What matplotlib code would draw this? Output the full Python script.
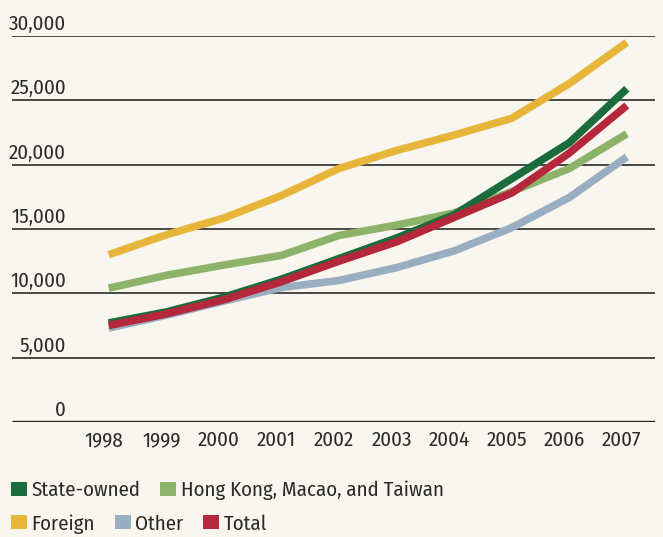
import matplotlib
matplotlib.use("Agg")
import matplotlib.pyplot as plt
import matplotlib.transforms as mtransforms
from matplotlib.patches import Patch

years = [1998, 1999, 2000, 2001, 2002, 2003, 2004, 2005, 2006, 2007]

state_owned = [7700, 8550, 9700, 11100, 12700, 14300, 16100, 18900, 21700, 25900]
hk_macao_taiwan = [10400, 11400, 12200, 12950, 14500, 15300, 16250, 17900, 19700, 22400]
foreign = [13000, 14550, 15850, 17600, 19700, 21100, 22300, 23600, 26300, 29500]
other = [7300, 8300, 9400, 10450, 11000, 12000, 13300, 15100, 17450, 20600]
total = [7500, 8400, 9500, 10900, 12500, 14000, 15900, 17800, 20900, 24600]

series_names = ["State-owned", "Hong Kong, Macao, and Taiwan", "Foreign", "Other", "Total"]
series_values = [state_owned, hk_macao_taiwan, foreign, other, total]
series_colors = ["#1b6b3c", "#8db36a", "#e6b539", "#9aaec2", "#b5283c"]

y_ticks = [0, 5000, 10000, 15000, 20000, 25000, 30000]
y_tick_labels = ["0", "5,000", "10,000", "15,000", "20,000", "25,000", "30,000"]

bg = "#f8f6ef"
ink = "#2b2b2b"
font = ["Fira Sans Condensed", "DejaVu Sans"]
fsize = 15
W, H = 663, 537

fig = plt.figure(figsize=(W / 100, H / 100), dpi=100, facecolor=bg)
ax = fig.add_axes([12 / W, 1 - 422 / H, (655 - 12) / W, (422 - 36) / H])
ax.set_facecolor(bg)

# horizontal rules with the value labels sitting above them
for v, lab in zip(y_ticks, y_tick_labels):
    ax.axhline(v, color="#3a3a3a" if v else "#222222", lw=1.3 if v else 2.4,
               zorder=1, solid_capstyle="butt")
    ax.annotate(lab, xy=(0, v), xycoords=("axes fraction", "data"),
                xytext=(54, 6), textcoords="offset pixels",
                ha="right", va="baseline", fontsize=fsize, family=font,
                color=ink)

# draw lines: Other and HK first, then the tight cluster on top
order = [3, 1, 2, 0, 4]
for i in order:
    ax.plot(years, series_values[i], color=series_colors[i], lw=5.5,
            solid_capstyle="butt", solid_joinstyle="round", zorder=3)

ax.set_xlim(1996.32, 2007.49)
ax.set_ylim(0, 30000)
ax.set_yticks([])
ax.set_xticks(years)
ax.set_xticklabels([str(y) for y in years], family=font, fontsize=fsize,
                   color=ink)
ax.tick_params(axis="x", length=0, pad=6)
shift = mtransforms.ScaledTranslation(-5 / 100, 0, fig.dpi_scale_trans)
for lbl in ax.get_xticklabels():
    lbl.set_transform(lbl.get_transform() + shift)
for s in ax.spines.values():
    s.set_visible(False)

# legend in two rows
row1 = [0, 1]
row2 = [2, 3, 4]
for row, ypos in ((row1, 1 - 481 / H), (row2, 1 - 514 / H)):
    handles = [Patch(facecolor=series_colors[i], edgecolor="none") for i in row]
    labels = [series_names[i] for i in row]
    leg = fig.legend(handles, labels, loc="upper left", bbox_to_anchor=(11 / W, ypos),
                     ncol=len(row), frameon=False, handlelength=0.78,
                     handleheight=0.66, handletextpad=0.2, columnspacing=0.95,
                     borderaxespad=0, borderpad=0,
                     prop={"family": font, "size": fsize})
    for t in leg.get_texts():
        t.set_color(ink)

fig.savefig("out.png", dpi=100, facecolor=bg)
